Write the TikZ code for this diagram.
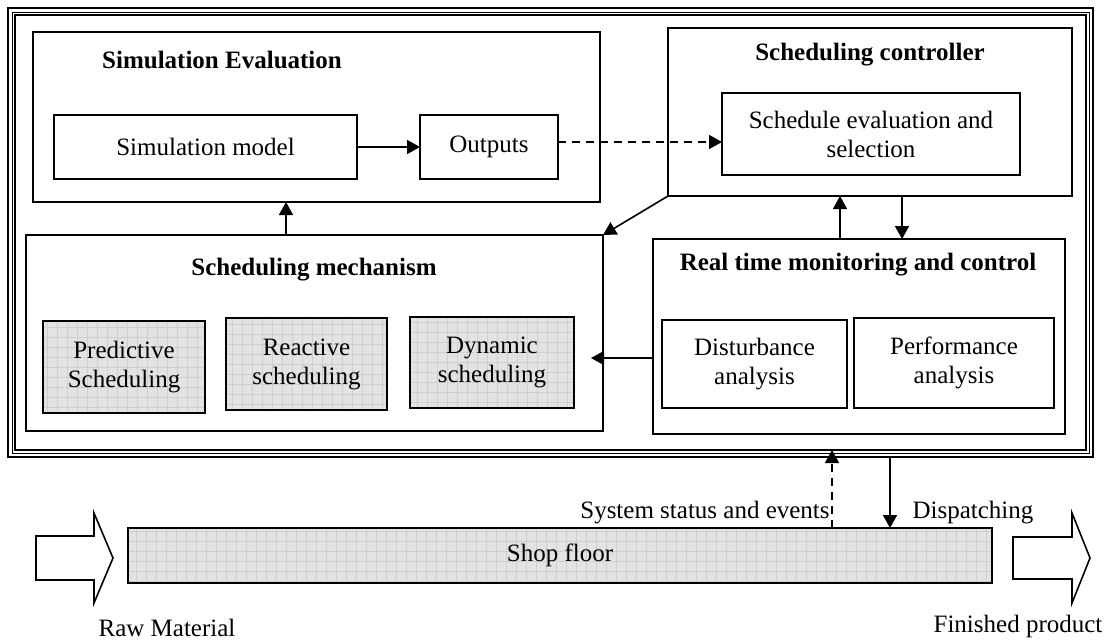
\documentclass[tikz,border=0pt]{standalone}
\usepackage{fontspec}
\setmainfont{Liberation Serif}
\usetikzlibrary{arrows.meta,calc}
\begin{document}
\begin{tikzpicture}[x=0.5pt,y=-0.5pt,
  font=\fontsize{12.5}{14.5}\selectfont,
  sz/.style 2 args={minimum width=#1*0.5pt, minimum height=#2*0.5pt},
  box/.style={draw, line width=0.8pt, inner sep=0pt, outer sep=0pt, align=center},
  shaded/.style={box, line width=1pt, fill=gray!22,
    path picture={\draw[gray!38, line width=0.4pt] (path picture bounding box.south west) grid[step=5pt] (path picture bounding box.north east);}},
  frameline/.style={draw, inner sep=0pt, outer sep=0pt},
  title/.style={font=\fontsize{12.5}{14.5}\selectfont\bfseries, inner sep=0pt},
  lbl/.style={inner sep=0pt},
  conn/.style={line width=0.8pt, -{Triangle[length=6.5pt,width=7pt]}},
  dconn/.style={conn, dash pattern=on 4pt off 3pt},
  blockarrow/.style={draw, line width=0.8pt, fill=white, line join=miter}
]
\useasboundingbox (0,0) rectangle (1112,639);

% outer triple frame
\node[frameline, line width=1pt, sz={1085}{449}] (frame) at (550.5,232.5) {};
\node[frameline, line width=0.5pt, sz={1077}{441}] (frame2) at (550.5,232.5) {};
\node[frameline, line width=0.6pt, sz={1071}{435}] (frame3) at (550.5,232.5) {};

% Simulation evaluation
\node[box, sz={567}{170}] (simeval) at (316.5,117) {};
\node[title] (simevalT) at (222,60) {Simulation Evaluation};
\node[box, sz={303}{64}] (simmodel) at (205.5,147) {Simulation model};
\node[box, sz={138}{64}] (outputs) at (489,147) {Outputs};

% Scheduling controller
\node[box, sz={404}{168}] (schedctrl) at (870,112) {};
\node[title] (schedctrlT) at (870,55) {Scheduling controller};
\node[box, sz={298}{82}] (schedeval) at (871,134) {Schedule evaluation and\\selection};

% Scheduling mechanism
\node[box, sz={577}{196}] (mech) at (314.5,333) {};
\node[title] (mechT) at (314,270) {Scheduling mechanism};
\node[shaded, sz={162}{92}] (pred) at (124,367) {Predictive\\Scheduling};
\node[shaded, sz={161}{92}] (react) at (306.5,364) {Reactive\\scheduling};
\node[shaded, sz={164}{91}] (dyn) at (492,362.5) {Dynamic\\scheduling};

% Real time monitoring
\node[box, sz={412}{195}] (rt) at (859,336.5) {};
\node[title] (rtT) at (858,265) {Real time monitoring and control};
\node[box, sz={185}{88}] (dist) at (754.5,364) {Disturbance\\analysis};
\node[box, sz={200}{90}] (perf) at (954,363) {Performance\\analysis};

% Shop floor
\node[shaded, sz={864}{55}] (shop) at (560,555.5) {Shop floor};

% block arrows
\draw[blockarrow] (36,536) -- (94,536) -- (94,513) -- (113,558) -- (94,603) -- (94,580) -- (36,580) -- cycle;
\draw[blockarrow] (1013,537) -- (1072,537) -- (1072,513) -- (1090,558) -- (1072,603) -- (1072,579) -- (1013,579) -- cycle;
\node[lbl] (raw) at (167,628) {Raw Material};
\node[lbl] (fin) at (1018,626) {Finished product};

% connector helper coordinates
\coordinate (yd) at (0,142);
\coordinate (xu) at (286,0);
\coordinate (xa) at (840,0);
\coordinate (xb) at (902,0);
\coordinate (yr) at (0,358);
\coordinate (xs) at (832,0);
\coordinate (xp) at (890,0);

% connectors
\draw[conn] (simmodel.east) -- (outputs.west);
\draw[dconn] (outputs.east |- yd) -- (schedeval.west |- yd);
\draw[conn] (mech.north -| xu) -- (simeval.south -| xu);
\draw[conn] (schedctrl.south west) -- (mech.north east);
\draw[conn] (rt.north -| xa) -- (schedctrl.south -| xa);
\draw[conn] (schedctrl.south -| xb) -- (rt.north -| xb);
\draw[conn, shorten >=-6pt] (rt.west |- yr) -- (mech.east |- yr);
\draw[dconn] (shop.north -| xs) -- (frame3.south -| xs);
\draw[conn] (frame.south -| xp) -- (shop.north -| xp);

\node[lbl] (sse) at (705,513) {System status and events};
\node[lbl] (disp) at (973,513) {Dispatching};
\end{tikzpicture}
\end{document}
